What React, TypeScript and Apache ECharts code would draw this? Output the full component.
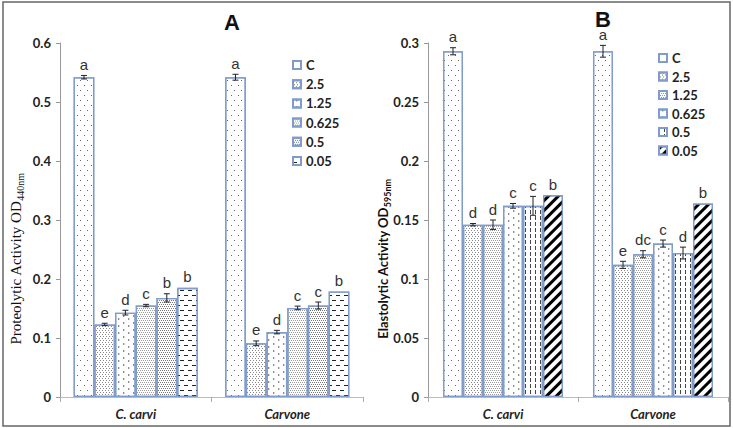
import React, { useEffect, useRef } from "react";
import * as echarts from "echarts";

const categories = ["C. carvi", "Carvone"];
const concentrations = ["C", "2.5", "1.25", "0.625", "0.5", "0.05"];

// Panel A – proteolytic activity (OD440nm), per concentration: [C. carvi, Carvone]
const proteoCarvi = [0.542, 0.123, 0.143, 0.155, 0.168, 0.185];
const proteoCarvone = [0.542, 0.091, 0.11, 0.151, 0.155, 0.179];
const proteoErrCarvi = [0.003, 0.002, 0.004, 0.002, 0.007, 0];
const proteoErrCarvone = [0.005, 0.004, 0.003, 0.003, 0.006, 0];
const proteoLettersCarvi = ["a", "e", "d", "c", "b", "b"];
const proteoLettersCarvone = ["a", "e", "d", "c", "c", "b"];

// Panel B – elastolytic activity (OD595nm)
const elastoCarvi = [0.293, 0.146, 0.146, 0.162, 0.162, 0.171];
const elastoCarvone = [0.293, 0.112, 0.121, 0.13, 0.122, 0.164];
const elastoErrCarvi = [0.003, 0.001, 0.004, 0.002, 0.008, 0];
const elastoErrCarvone = [0.005, 0.003, 0.003, 0.003, 0.005, 0];
const elastoLettersCarvi = ["a", "d", "d", "c", "c", "b"];
const elastoLettersCarvone = ["a", "e", "dc", "c", "d", "b"];

const yTicksA = ["0", "0.1", "0.2", "0.3", "0.4", "0.5", "0.6"];
const yTicksB = ["0", "0.05", "0.1", "0.15", "0.2", "0.25", "0.3"];

const BORDER = "#7f9ccb";

const dSparse = { symbol: "rect", symbolSize: 1, color: "#666", backgroundColor: "#fff", dashArrayX: [[1, 6], [0, 3, 1, 3]], dashArrayY: [1, 4] };
const dDense = { symbol: "rect", symbolSize: 1, color: "#888", backgroundColor: "#fff", dashArrayX: [[1, 2], [0, 1, 1, 1]], dashArrayY: [1, 1] };
const dChevron = { symbol: "triangle", symbolSize: 1, color: "#666", backgroundColor: "#fff", dashArrayX: [[2, 5], [0, 3, 2, 2]], dashArrayY: [2, 3], rotation: Math.PI / 2 };
const dChecker = { symbol: "rect", symbolSize: 1, color: "#999", backgroundColor: "#fff", dashArrayX: [[1, 1], [0, 1, 1, 0]], dashArrayY: [1, 0.01] };
const dGrey = { symbol: "rect", symbolSize: 1, color: "#777", backgroundColor: "#c8c8c8", dashArrayX: [[1, 1], [0, 1, 1, 0]], dashArrayY: [1, 0.01] };
const dHDash = { symbol: "rect", symbolSize: 1, color: "#222", backgroundColor: "#fff", dashArrayX: [[4, 4], [0, 4, 4, 0]], dashArrayY: [1, 4] };
const dVDash = { symbol: "rect", symbolSize: 1, color: "#444", backgroundColor: "#fff", dashArrayX: [1, 4], dashArrayY: [4, 2] };
const dStripe = { symbol: "rect", symbolSize: 1, color: "#000", backgroundColor: "#fff", dashArrayX: [1, 0], dashArrayY: [2.5, 3.5], rotation: -Math.PI / 4 };

const decalsA = [dSparse, dDense, dChevron, dChecker, dGrey, dHDash];
const decalsB = [dSparse, dDense, dChecker, dChevron, dVDash, dStripe];

const namesA = concentrations;
const namesB = concentrations.map((c) => "B:" + c);

function makeRender(errs: number[][], letters: string[][], gapRatio: number) {
  return (params: any, api: any) => {
    const c = api.value(0);
    const i = api.value(1);
    const v = api.value(2);
    const e = errs[c][i];
    const band = api.size([1, 0])[0];
    const groupW = band * (1 - gapRatio);
    const bw = groupW / 6;
    const center = api.coord([c, 0])[0];
    const x = center - groupW / 2 + bw * (i + 0.5);
    const yTop = api.coord([c, v + e])[1];
    const yBot = api.coord([c, v - e])[1];
    const children: any[] = [];
    if (e > 0) {
      const st = { stroke: "#222", lineWidth: 1 };
      children.push({ type: "line", shape: { x1: x, y1: yTop, x2: x, y2: yBot }, style: st });
      children.push({ type: "line", shape: { x1: x - 3, y1: yTop, x2: x + 3, y2: yTop }, style: st });
      children.push({ type: "line", shape: { x1: x - 3, y1: yBot, x2: x + 3, y2: yBot }, style: st });
    }
    children.push({
      type: "text",
      x,
      y: yTop - 4,
      style: {
        text: letters[c][i],
        align: "center",
        verticalAlign: "bottom",
        fontFamily: "Liberation Sans",
        fontSize: 15,
        lineHeight: 14,
        fill: "#333",
      },
    });
    return { type: "group", children };
  };
}

function errData(valsCarvi: number[], valsCarvone: number[]) {
  const out: number[][] = [];
  [valsCarvi, valsCarvone].forEach((vals, c) => {
    vals.forEach((v, i) => out.push([c, i, v]));
  });
  return out;
}

export default function App() {
  const ref = useRef<HTMLDivElement>(null);
  useEffect(() => {
    if (!ref.current) return;
    const chart = echarts.init(ref.current, undefined, { renderer: "svg" });
    const xAxisBase = (gridIndex: number) => ({
      type: "category",
      gridIndex,
      data: categories,
      axisLine: { lineStyle: { color: "#bbb", width: 1 } },
      axisTick: { show: true, length: 5, lineStyle: { color: "#aaa" } },
      axisLabel: { fontWeight: "bold", fontStyle: "italic", fontSize: 13, fontFamily: "Lato", color: "#222", margin: 10 },
    });
    const yAxisBase = (gridIndex: number, max: number, interval: number, ticks: string[]) => ({
      type: "value",
      gridIndex,
      min: 0,
      max,
      interval,
      splitLine: { show: false },
      axisLine: { show: true, lineStyle: { color: "#999" } },
      axisTick: { show: true, length: 4, lineStyle: { color: "#999" } },
      axisLabel: {
        fontWeight: "bold",
        fontSize: 13,
        fontFamily: "Lato",
        color: "#222",
        margin: 9,
        formatter: (v: number) => ticks[Math.round(v / interval)] ?? "",
      },
    });
    const barsA = concentrations.map((c, i) => ({
      type: "bar",
      name: namesA[i],
      xAxisIndex: 0,
      yAxisIndex: 0,
      barGap: "0%",
      barCategoryGap: "18%",
      data: [proteoCarvi[i], proteoCarvone[i]],
      itemStyle: { color: "#fff", borderColor: BORDER, borderWidth: 1.3, decal: decalsA[i] },
    }));
    const barsB = concentrations.map((c, i) => ({
      type: "bar",
      name: namesB[i],
      xAxisIndex: 1,
      yAxisIndex: 1,
      barGap: "0%",
      barCategoryGap: "20%",
      data: [elastoCarvi[i], elastoCarvone[i]],
      itemStyle: { color: "#fff", borderColor: BORDER, borderWidth: 1.3, decal: decalsB[i] },
    }));
    const legendBase = {
      orient: "vertical",
      itemWidth: 8,
      itemHeight: 8,
      icon: "rect",
      textStyle: { fontWeight: "bold", fontSize: 13, fontFamily: "Lato", color: "#222", lineHeight: 14 },
      selectedMode: false,
    };
    chart.setOption({
      animation: false,
      aria: { enabled: false },
      grid: [
        { left: 60, top: 43, width: 303, height: 354 },
        { left: 428, top: 43, width: 300, height: 354 },
      ],
      xAxis: [xAxisBase(0), xAxisBase(1)],
      yAxis: [yAxisBase(0, 0.6, 0.1, yTicksA), yAxisBase(1, 0.3, 0.05, yTicksB)],
      legend: [
        { ...legendBase, left: 287, top: 53, itemGap: 5.2, data: namesA },
        { ...legendBase, left: 653, top: 46, itemGap: 4.5, data: namesB, formatter: (n: string) => n.replace("B:", "") },
      ],
      graphic: [
        { type: "rect", shape: { x: 3, y: 2, width: 727, height: 424 }, style: { fill: "none", stroke: "#666", lineWidth: 1.5 }, silent: true },
        { type: "text", x: 232, y: 22, style: { text: "A", font: "bold 22px 'Liberation Sans'", lineHeight: 16, fill: "#111", align: "center", verticalAlign: "middle" } },
        { type: "text", x: 603, y: 19, style: { text: "B", font: "bold 22px 'Liberation Sans'", lineHeight: 16, fill: "#111", align: "center", verticalAlign: "middle" } },
        {
          type: "text",
          x: 16,
          y: 259,
          rotation: Math.PI / 2,
          style: {
            text: "Proteolytic Activity OD{sub|440nm}",
            fontFamily: "Liberation Serif",
            fontSize: 15,
            fill: "#111",
            align: "center",
            verticalAlign: "middle",
            rich: { sub: { fontFamily: "Liberation Serif", fontSize: 10, fill: "#111", padding: [9, 0, 0, 0] } },
          },
        },
        {
          type: "text",
          x: 383,
          y: 259,
          rotation: Math.PI / 2,
          style: {
            text: "Elastolytic Activity OD{sub|595nm}",
            fontFamily: "Lato",
            fontWeight: "bold",
            fontSize: 13,
            fill: "#111",
            align: "center",
            verticalAlign: "middle",
            rich: { sub: { fontFamily: "Lato", fontWeight: "bold", fontSize: 9, fill: "#111", padding: [8, 0, 0, 0] } },
          },
        },
      ],
      series: [
        ...barsA,
        ...barsB,
        {
          type: "custom",
          xAxisIndex: 0,
          yAxisIndex: 0,
          z: 10,
          silent: true,
          encode: { x: 0, y: 2 },
          data: errData(proteoCarvi, proteoCarvone),
          renderItem: makeRender([proteoErrCarvi, proteoErrCarvone], [proteoLettersCarvi, proteoLettersCarvone], 0.18),
        },
        {
          type: "custom",
          xAxisIndex: 1,
          yAxisIndex: 1,
          z: 10,
          silent: true,
          encode: { x: 0, y: 2 },
          data: errData(elastoCarvi, elastoCarvone),
          renderItem: makeRender([elastoErrCarvi, elastoErrCarvone], [elastoLettersCarvi, elastoLettersCarvone], 0.2),
        },
      ],
    });
    return () => chart.dispose();
  }, []);
  return <div ref={ref} style={{ position: "fixed", left: 0, top: 0, width: 733, height: 428, background: "#fff" }} />;
}
